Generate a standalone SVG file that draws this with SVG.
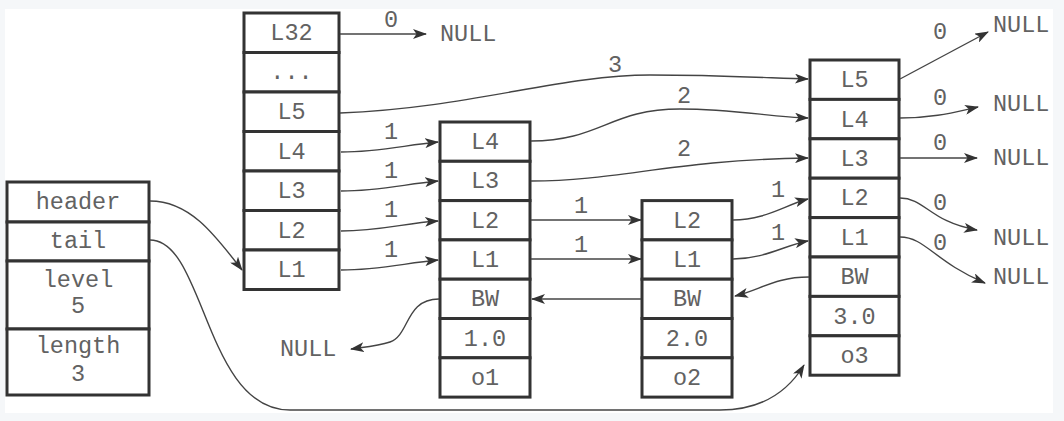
<svg xmlns="http://www.w3.org/2000/svg" width="1064" height="421" viewBox="0 0 1064 421">
<defs>
<style>
.cell{fill:#ffffff;stroke:#333333;stroke-width:3}
.t{font-family:"Liberation Mono","Courier New",monospace;font-size:23.5px;fill:#626262;text-anchor:middle}
.ts{font-family:"Liberation Mono","Courier New",monospace;font-size:23.5px;fill:#626262}
.c{fill:none;stroke:#444444;stroke-width:1.4;marker-end:url(#arr)}
</style>
<marker id="arr" viewBox="0 0 14 10" refX="13" refY="5" markerWidth="14" markerHeight="10" orient="auto" markerUnits="userSpaceOnUse">
<path d="M0,0 L14,5 L0,10 L3.5,5 Z" fill="#333333"/>
</marker>
</defs>
<rect x="0" y="0" width="1064" height="421" fill="#f5f7f9"/>
<rect x="5" y="9" width="1048" height="404" fill="#ffffff"/>

<g id="list">
<rect class="cell" x="7" y="182" width="142" height="40"/>
<rect class="cell" x="7" y="222" width="142" height="39"/>
<rect class="cell" x="7" y="261" width="142" height="68"/>
<rect class="cell" x="7" y="329" width="142" height="66"/>
<text class="t" x="78" y="209">header</text>
<text class="t" x="78" y="248">tail</text>
<text class="t" x="78" y="287">level</text>
<text class="t" x="78" y="313">5</text>
<text class="t" x="78" y="353">length</text>
<text class="t" x="78" y="381">3</text>
</g>

<g id="header">
<rect class="cell" x="244" y="13" width="95" height="39.5"/>
<rect class="cell" x="244" y="52.5" width="95" height="39.5"/>
<rect class="cell" x="244" y="92" width="95" height="39.5"/>
<rect class="cell" x="244" y="131.5" width="95" height="39.5"/>
<rect class="cell" x="244" y="171" width="95" height="39.5"/>
<rect class="cell" x="244" y="210.5" width="95" height="39.5"/>
<rect class="cell" x="244" y="250" width="95" height="39.5"/>
<text class="t" x="291.5" y="40">L32</text>
<text class="t" x="291.5" y="79">...</text>
<text class="t" x="291.5" y="119">L5</text>
<text class="t" x="291.5" y="158.5">L4</text>
<text class="t" x="291.5" y="198">L3</text>
<text class="t" x="291.5" y="237.5">L2</text>
<text class="t" x="291.5" y="277">L1</text>
</g>

<g id="node1">
<rect class="cell" x="440" y="122" width="90" height="39.3"/>
<rect class="cell" x="440" y="161.3" width="90" height="39.3"/>
<rect class="cell" x="440" y="200.6" width="90" height="39.3"/>
<rect class="cell" x="440" y="239.9" width="90" height="39.3"/>
<rect class="cell" x="440" y="279.2" width="90" height="39.3"/>
<rect class="cell" x="440" y="318.5" width="90" height="39.3"/>
<rect class="cell" x="440" y="357.8" width="90" height="39.3"/>
<text class="t" x="485" y="149">L4</text>
<text class="t" x="485" y="188">L3</text>
<text class="t" x="485" y="227.5">L2</text>
<text class="t" x="485" y="267">L1</text>
<text class="t" x="485" y="306">BW</text>
<text class="t" x="485" y="345.5">1.0</text>
<text class="t" x="485" y="385">o1</text>
</g>

<g id="node2">
<rect class="cell" x="642" y="200.6" width="90" height="39.3"/>
<rect class="cell" x="642" y="239.9" width="90" height="39.3"/>
<rect class="cell" x="642" y="279.2" width="90" height="39.3"/>
<rect class="cell" x="642" y="318.5" width="90" height="39.3"/>
<rect class="cell" x="642" y="357.8" width="90" height="39.3"/>
<text class="t" x="687" y="227.5">L2</text>
<text class="t" x="687" y="267">L1</text>
<text class="t" x="687" y="306">BW</text>
<text class="t" x="687" y="345.5">2.0</text>
<text class="t" x="687" y="385">o2</text>
</g>

<g id="node3">
<rect class="cell" x="810" y="60" width="89" height="39.4"/>
<rect class="cell" x="810" y="99.4" width="89" height="39.4"/>
<rect class="cell" x="810" y="138.8" width="89" height="39.4"/>
<rect class="cell" x="810" y="178.2" width="89" height="39.4"/>
<rect class="cell" x="810" y="217.6" width="89" height="39.4"/>
<rect class="cell" x="810" y="257" width="89" height="39.4"/>
<rect class="cell" x="810" y="296.4" width="89" height="39.4"/>
<rect class="cell" x="810" y="335.8" width="89" height="39.4"/>
<text class="t" x="854.5" y="87">L5</text>
<text class="t" x="854.5" y="126.5">L4</text>
<text class="t" x="854.5" y="166">L3</text>
<text class="t" x="854.5" y="205">L2</text>
<text class="t" x="854.5" y="244.5">L1</text>
<text class="t" x="854.5" y="284">BW</text>
<text class="t" x="854.5" y="323.5">3.0</text>
<text class="t" x="854.5" y="363">o3</text>
</g>

<g id="nulls">
<text class="ts" x="440" y="41">NULL</text>
<text class="ts" x="280" y="356">NULL</text>
<text class="ts" x="993" y="32">NULL</text>
<text class="ts" x="993" y="111">NULL</text>
<text class="ts" x="993" y="165">NULL</text>
<text class="ts" x="993" y="245">NULL</text>
<text class="ts" x="993" y="284">NULL</text>
</g>

<g id="labels">
<text class="t" x="391" y="27">0</text>
<text class="t" x="615" y="72">3</text>
<text class="t" x="391" y="139">1</text>
<text class="t" x="391" y="178">1</text>
<text class="t" x="391" y="217">1</text>
<text class="t" x="391" y="257">1</text>
<text class="t" x="684" y="103">2</text>
<text class="t" x="684" y="156">2</text>
<text class="t" x="581" y="213">1</text>
<text class="t" x="581" y="252">1</text>
<text class="t" x="778" y="197">1</text>
<text class="t" x="778" y="240">1</text>
<text class="t" x="940" y="39">0</text>
<text class="t" x="940" y="105">0</text>
<text class="t" x="940" y="150">0</text>
<text class="t" x="940" y="210">0</text>
<text class="t" x="940" y="250">0</text>
</g>

<g id="connectors">
<path class="c" d="M150,201 C190,201 215,235 242,270"/>
<path class="c" d="M150,240 C205,240 205,410 290,410 L720,410 C765,410 790,388 804,365"/>
<path class="c" d="M340,34 L426,34"/>
<path class="c" d="M340,113 C470,108 560,75 650,75 C720,75 770,78 808,79"/>
<path class="c" d="M341,152 C380,152 405,145 438,142"/>
<path class="c" d="M341,191 C380,191 405,184 438,181"/>
<path class="c" d="M341,231 C380,231 405,223 438,221"/>
<path class="c" d="M341,270 C380,270 405,263 438,260"/>
<path class="c" d="M531,141 C600,141 610,109 680,109 C735,109 770,117 808,118"/>
<path class="c" d="M531,181 C620,181 670,160 808,158"/>
<path class="c" d="M531,220 L641,220"/>
<path class="c" d="M531,259 L641,259"/>
<path class="c" d="M641,299 L532,299"/>
<path class="c" d="M439,299 C405,299 410,335 390,342 C378,346 365,347 351,349"/>
<path class="c" d="M733,220 C765,220 785,205 808,199"/>
<path class="c" d="M733,259 C765,259 785,245 808,241"/>
<path class="c" d="M809,277 C775,277 760,290 735,296"/>
<path class="c" d="M900,79 L988,32"/>
<path class="c" d="M900,118 C935,118 955,112 978,107"/>
<path class="c" d="M900,158 L977,158"/>
<path class="c" d="M900,198 C925,198 930,222 977,230"/>
<path class="c" d="M900,237 C925,237 935,262 985,283"/>
</g>
</svg>
